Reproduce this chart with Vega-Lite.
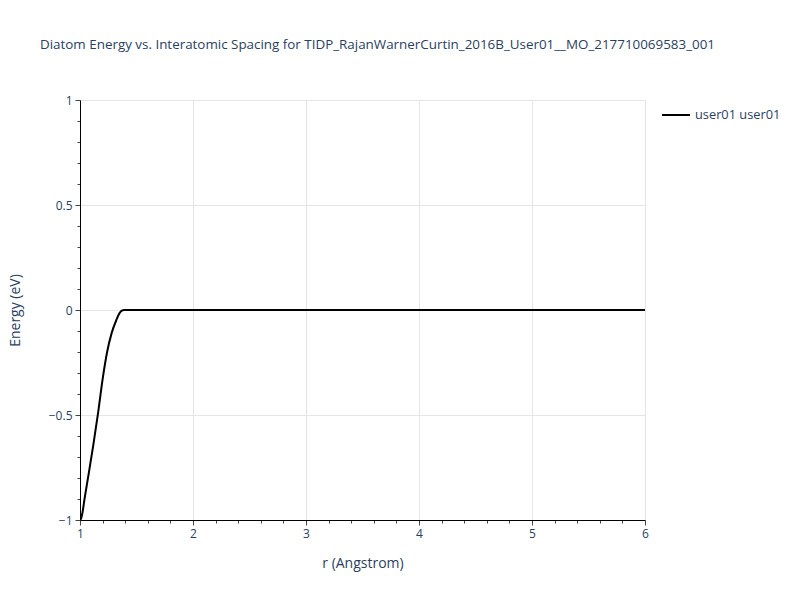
{
  "$schema": "https://vega.github.io/schema/vega-lite/v6.json",
  "width": 565,
  "height": 420,
  "autosize": {"type": "none"},
  "padding": {"left": 80, "top": 100, "right": 155, "bottom": 80},
  "background": "white",
  "title": {
    "text": "Diatom Energy vs. Interatomic Spacing for TIDP_RajanWarnerCurtin_2016B_User01__MO_217710069583_001",
    "anchor": "start",
    "frame": "group",
    "dx": -40,
    "offset": 36,
    "font": "Open Sans",
    "fontSize": 13.4,
    "fontWeight": "normal",
    "color": "#2a3f5f",
    "baseline": "middle"
  },
  "config": {
    "view": {"stroke": null},
    "axis": {
      "labelFont": "Open Sans",
      "titleFont": "Open Sans",
      "labelColor": "#2a3f5f",
      "titleColor": "#2a3f5f",
      "labelFontSize": 12,
      "titleFontSize": 14,
      "titleFontWeight": "normal",
      "domainColor": "#000000",
      "domainWidth": 1,
      "tickColor": "#444444",
      "gridColor": "#e5e5e5",
      "gridWidth": 1
    }
  },
  "datasets": {
    "curve": [
      {"r": 1.0, "E": -1.0, "s": "user01 user01"},
      {"r": 1.01, "E": -0.992, "s": "user01 user01"},
      {"r": 1.02, "E": -0.97, "s": "user01 user01"},
      {"r": 1.04, "E": -0.9, "s": "user01 user01"},
      {"r": 1.08, "E": -0.77, "s": "user01 user01"},
      {"r": 1.12, "E": -0.635, "s": "user01 user01"},
      {"r": 1.16, "E": -0.49, "s": "user01 user01"},
      {"r": 1.2, "E": -0.33, "s": "user01 user01"},
      {"r": 1.24, "E": -0.2, "s": "user01 user01"},
      {"r": 1.28, "E": -0.11, "s": "user01 user01"},
      {"r": 1.32, "E": -0.05, "s": "user01 user01"},
      {"r": 1.35, "E": -0.015, "s": "user01 user01"},
      {"r": 1.37, "E": -0.003, "s": "user01 user01"},
      {"r": 1.39, "E": 0.0, "s": "user01 user01"},
      {"r": 2.0, "E": 0.0, "s": "user01 user01"},
      {"r": 3.0, "E": 0.0, "s": "user01 user01"},
      {"r": 4.0, "E": 0.0, "s": "user01 user01"},
      {"r": 5.0, "E": 0.0, "s": "user01 user01"},
      {"r": 6.0, "E": 0.0, "s": "user01 user01"}
    ]
  },
  "data": {"name": "curve"},
  "mark": {"type": "line", "strokeWidth": 2, "clip": true, "interpolate": "monotone"},
  "encoding": {
    "x": {
      "field": "r",
      "type": "quantitative",
      "scale": {"domain": [1, 6], "nice": false, "zero": false},
      "axis": {
        "title": "r (Angstrom)",
        "titlePadding": 17,
        "values": [1, 1.2, 1.4, 1.6, 1.8, 2, 2.2, 2.4, 2.6, 2.8, 3, 3.2, 3.4, 3.6, 3.8, 4, 4.2, 4.4, 4.6, 4.8, 5, 5.2, 5.4, 5.6, 5.8, 6],
        "labelExpr": "abs(datum.value - round(datum.value)) < 0.001 ? format(datum.value, 'd') : ''",
        "tickSize": {"condition": {"test": "abs(datum.value - round(datum.value)) < 0.001", "value": 5}, "value": 3},
        "gridOpacity": {"condition": {"test": "abs(datum.value - round(datum.value)) < 0.001", "value": 1}, "value": 0},
        "labelPadding": 3,
        "labelFlush": false,
        "labelOverlap": false
      }
    },
    "y": {
      "field": "E",
      "type": "quantitative",
      "scale": {"domain": [-1, 1], "nice": false, "zero": false},
      "axis": {
        "title": "Energy (eV)",
        "titlePadding": 26,
        "values": [-1, -0.9, -0.8, -0.7, -0.6, -0.5, -0.4, -0.3, -0.2, -0.1, 0, 0.1, 0.2, 0.3, 0.4, 0.5, 0.6, 0.7, 0.8, 0.9, 1],
        "labelExpr": "abs(datum.value * 2 - round(datum.value * 2)) < 0.001 ? replace(format(datum.value, ''), '-', '\u2212') : ''",
        "tickSize": {"condition": {"test": "abs(datum.value * 2 - round(datum.value * 2)) < 0.001", "value": 5}, "value": 3},
        "gridOpacity": {"condition": {"test": "abs(datum.value * 2 - round(datum.value * 2)) < 0.001", "value": 1}, "value": 0},
        "labelPadding": 3,
        "labelFlush": false,
        "labelOverlap": false
      }
    },
    "color": {
      "field": "s",
      "type": "nominal",
      "scale": {"range": ["#000000"]},
      "legend": {
        "title": null,
        "orient": "right",
        "offset": 16,
        "symbolType": "stroke",
        "symbolStrokeWidth": 2,
        "symbolSize": 784,
        "labelFont": "Open Sans",
        "labelFontSize": 12.8,
        "labelColor": "#2a3f5f",
        "padding": 0
      }
    }
  }
}
